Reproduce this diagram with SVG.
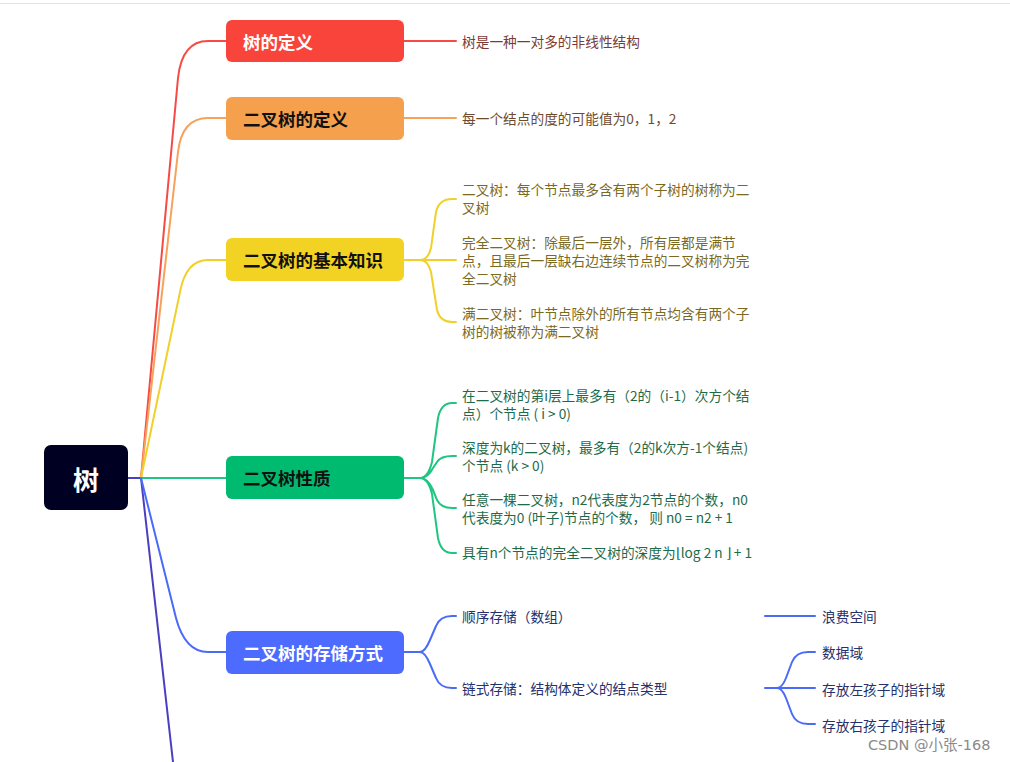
<svg xmlns="http://www.w3.org/2000/svg" width="1010" height="762" viewBox="0 0 1010 762">
<style>
.node-t{font-family:"Noto Sans CJK SC","Noto Sans",sans-serif;font-weight:700;font-size:17.5px;dominant-baseline:central}
.leaf{font-family:"Noto Sans CJK SC","Noto Sans",sans-serif;font-size:13.7px;dominant-baseline:central}
.c{fill:none;stroke-width:2;stroke-linecap:round}
</style>
<rect width="1010" height="762" fill="#ffffff"/>
<line x1="0" y1="3.5" x2="1010" y2="3.5" stroke="#e4e4e4" stroke-width="1"/>
<g id="connectors">
  <path class="c" stroke="#4B3FC0" d="M128 478 L141 478 L173 762"/>
  <path class="c" stroke="#F74A45" d="M141 478 L178 78 Q182 41 208 41 L226 41"/>
  <path class="c" stroke="#F7A25A" d="M141 478 L178 152 Q182 118 208 118 L226 118"/>
  <path class="c" stroke="#F0D02A" d="M141 478 L180 292 Q186 260 208 260 L226 260"/>
  <path class="c" stroke="#21C582" d="M141 478 L226 478"/>
  <path class="c" stroke="#4A6BF7" d="M141 478 L176 618 Q185 652 208 652 L226 652"/>
  <path class="c" stroke="#F74A45" d="M404 41 L456 41"/>
  <path class="c" stroke="#F7A25A" d="M404 118 L456 118"/>
  <path class="c" stroke="#F0D02A" d="M404 260 L456 260 M420 260 Q428 260 431 248 L436 212 Q439 199 452 199 L456 199 M420 260 Q428 260 431 272 L437 310 Q440 322 452 322 L456 322"/>
  <path class="c" stroke="#21C582" d="M404 478 L420 478 M420 478 Q428 478 432 462 L438 418 Q441 403 452 403 L456 403 M420 478 Q428 478 433 468 L437 462 Q441 456 452 456 L456 456 M420 478 Q428 478 433 490 L437 500 Q441 508 452 508 L456 508 M420 478 Q428 478 432 494 L438 538 Q441 553 452 553 L456 553"/>
  <path class="c" stroke="#4A6BF7" d="M404 652 L420 652 M420 652 Q425 652 430 640 L436 626 Q440 616 452 616 L456 616 M420 652 Q425 652 430 664 L436 678 Q440 688 452 688 L456 688"/>
  <path class="c" stroke="#4A6BF7" d="M765 616 L815 616"/>
  <path class="c" stroke="#4A6BF7" d="M765 688 L815 688 M777 688 Q782 688 786 678 L792 662 Q796 652 808 652 L815 652 M777 688 Q782 688 786 698 L792 714 Q796 724 808 724 L815 724"/>
</g>
<g id="root">
  <rect x="44" y="445" width="84" height="65" rx="7" fill="#000022"/>
  <text x="86" y="478" text-anchor="middle" font-family="Noto Sans CJK SC,sans-serif" font-weight="700" font-size="26" fill="#ffffff" dominant-baseline="central">树</text>
</g>
<g id="n1">
  <rect x="226" y="20" width="178" height="42" rx="6" fill="#F9443C"/>
  <text class="node-t" x="243" y="41" fill="#ffffff">树的定义</text>
</g>
<g id="n2">
  <rect x="226" y="97" width="178" height="43" rx="6" fill="#F5A04D"/>
  <text class="node-t" x="243" y="118.5" fill="#111111">二叉树的定义</text>
</g>
<g id="n3">
  <rect x="226" y="238" width="178" height="43" rx="6" fill="#F2D223"/>
  <text class="node-t" x="243" y="259.5" fill="#111111">二叉树的基本知识</text>
</g>
<g id="n4">
  <rect x="226" y="456" width="178" height="43" rx="6" fill="#00BA6F"/>
  <text class="node-t" x="243" y="477.5" fill="#111111">二叉树性质</text>
</g>
<g id="n5">
  <rect x="226" y="631" width="178" height="43" rx="6" fill="#4D6BFE"/>
  <text class="node-t" x="243" y="652.5" fill="#ffffff">二叉树的存储方式</text>
</g>
<g id="leaf1"><text class="leaf" x="462" y="41" fill="#7D3B36">树是一种一对多的非线性结构</text></g>
<g id="leaf2"><text class="leaf" x="462" y="118" fill="#6E4B2F">每一个结点的度的可能值为0，1，2</text></g>
<g id="leaf3" fill="#7A6A1F">
  <text class="leaf" x="462" y="189">二叉树：每个节点最多含有两个子树的树称为二</text>
  <text class="leaf" x="462" y="207">叉树</text>
</g>
<g id="leaf4" fill="#7A6A1F">
  <text class="leaf" x="462" y="242">完全二叉树：除最后一层外，所有层都是满节</text>
  <text class="leaf" x="462" y="260">点，且最后一层缺右边连续节点的二叉树称为完</text>
  <text class="leaf" x="462" y="278">全二叉树</text>
</g>
<g id="leaf5" fill="#7A6A1F">
  <text class="leaf" x="462" y="313">满二叉树：叶节点除外的所有节点均含有两个子</text>
  <text class="leaf" x="462" y="331">树的树被称为满二叉树</text>
</g>
<g id="leaf6" fill="#1E6B4B">
  <text class="leaf" x="462" y="395">在二叉树的第i层上最多有（2的（i-1）次方个结</text>
  <text class="leaf" x="462" y="413">点）个节点 ( i &gt; 0)</text>
</g>
<g id="leaf7" fill="#1E6B4B">
  <text class="leaf" x="462" y="447">深度为k的二叉树，最多有（2的k次方-1个结点)</text>
  <text class="leaf" x="462" y="465">个节点 (k &gt; 0)</text>
</g>
<g id="leaf8" fill="#1E6B4B">
  <text class="leaf" x="462" y="499">任意一棵二叉树，n2代表度为2节点的个数，n0</text>
  <text class="leaf" x="462" y="517">代表度为0 (叶子)节点的个数， 则 n0 = n2 + 1</text>
</g>
<g id="leaf9" fill="#1E6B4B">
  <text class="leaf" x="462" y="552">具有n个节点的完全二叉树的深度为⌊log 2 n ⌋ + 1</text>
</g>
<g id="leaf10"><text class="leaf" x="462" y="616" fill="#27306A">顺序存储（数组）</text></g>
<g id="leaf11"><text class="leaf" x="462" y="688" fill="#27306A">链式存储：结构体定义的结点类型</text></g>
<g id="leaf12"><text class="leaf" x="822" y="616" fill="#27306A">浪费空间</text></g>
<g id="leaf13"><text class="leaf" x="822" y="652" fill="#27306A">数据域</text></g>
<g id="leaf14"><text class="leaf" x="822" y="689" fill="#27306A">存放左孩子的指针域</text></g>
<g id="leaf15"><text class="leaf" x="822" y="725" fill="#27306A">存放右孩子的指针域</text></g>
<text x="868" y="745" font-family="DejaVu Sans,Noto Sans CJK SC,sans-serif" font-size="14.5" fill="#8a8a8a" dominant-baseline="central">CSDN @小张-168</text>
</svg>
